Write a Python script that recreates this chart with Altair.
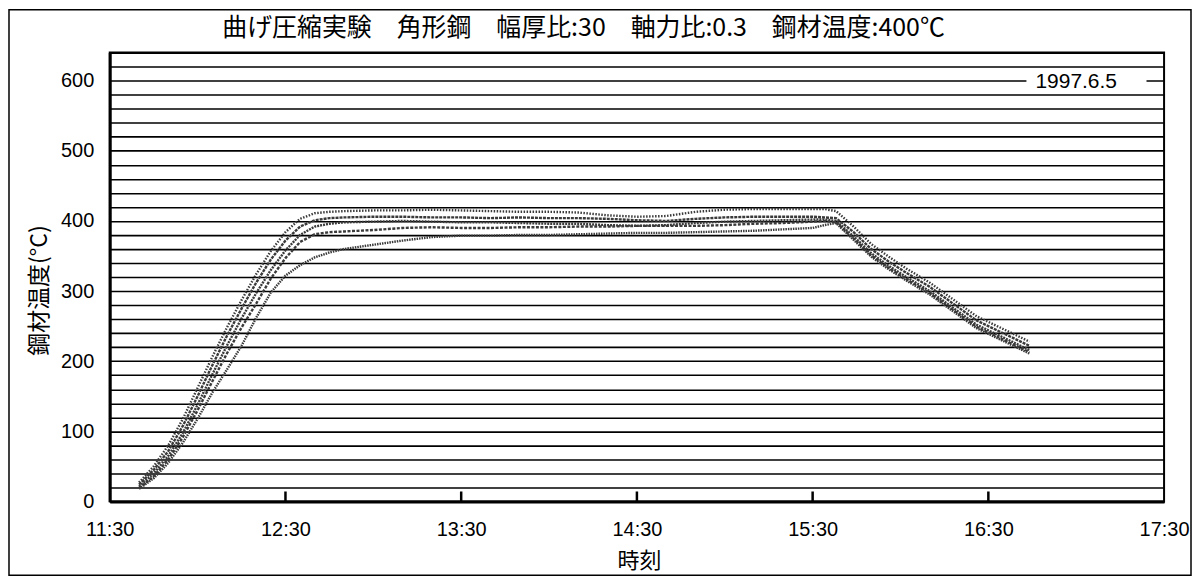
import altair as alt
import pandas as pd

# ---- data ----
title_text = "曲げ圧縮実験　角形鋼　幅厚比:30　軸力比:0.3　鋼材温度:400℃"
date_label = "1997.6.5"

times = ["11:40", "11:45", "11:50", "11:55", "12:00", "12:05", "12:10", "12:15",
         "12:20", "12:25", "12:30", "12:35", "12:40", "12:45", "12:50",
         "13:00", "13:10", "13:20", "13:30", "13:40", "13:50", "14:00", "14:10",
         "14:20", "14:30", "14:40", "14:50", "15:00", "15:10", "15:20", "15:30",
         "15:34", "15:38", "15:44", "15:50", "15:56", "16:02", "16:10", "16:18",
         "16:26", "16:34", "16:44"]

temp_a = [27, 50, 80, 118, 162, 206, 248, 287, 324, 357, 384, 403, 411, 413, 414,
          415, 415, 416, 415, 414, 413, 413, 412, 408, 406, 407, 413, 416, 417, 417, 417,
          417, 414, 392, 367, 349, 332, 312, 288, 264, 248, 228]
temp_b = [24, 45, 72, 108, 150, 194, 236, 275, 312, 345, 372, 392, 401, 404, 405,
          406, 406, 405, 405, 404, 405, 404, 404, 403, 401, 400, 403, 405, 406, 406, 406,
          405, 404, 384, 360, 342, 326, 306, 282, 258, 242, 222]
temp_c = [21, 40, 65, 98, 138, 181, 222, 261, 297, 330, 358, 380, 392, 396, 398,
          399, 400, 399, 398, 398, 397, 396, 396, 394, 393, 394, 397, 399, 400, 401, 402,
          402, 400, 378, 354, 336, 320, 300, 276, 252, 236, 216]
temp_d = [19, 36, 60, 92, 130, 171, 211, 248, 282, 318, 347, 370, 381, 384, 385,
          387, 390, 391, 390, 390, 391, 391, 392, 392, 393, 393, 393, 394, 396, 397, 399,
          400, 398, 375, 351, 333, 317, 297, 273, 249, 233, 213]
temp_e = [18, 33, 55, 84, 118, 155, 188, 222, 262, 298, 322, 337, 348, 355, 360,
          366, 372, 377, 379, 379, 380, 380, 381, 382, 383, 383, 384, 385, 386, 388, 390,
          394, 397, 373, 349, 331, 315, 295, 271, 247, 231, 211]

series = {"A": temp_a, "B": temp_b, "C": temp_c, "D": temp_d, "E": temp_e}

axis_times = ["11:30", "12:30", "13:30", "14:30", "15:30", "16:30", "17:30"]
inner_tick_times = ["12:30", "13:30", "14:30", "15:30", "16:30"]
y_grid_values = list(range(0, 641, 20))


def to_min(s):
    h, m = s.split(":")
    return int(h) * 60 + int(m)


rows = []
for name, vals in series.items():
    for t, v in zip(times, vals):
        rows.append({"s": name, "t": to_min(t), "v": v})
df = pd.DataFrame(rows)

FONT = "Liberation Sans, Noto Sans CJK JP"
JFONT = "Noto Sans CJK JP"
W, H = 1057, 450
x_dom = [to_min(axis_times[0]), to_min(axis_times[-1])]

x_scale = alt.Scale(domain=x_dom, nice=False, zero=False)
y_scale = alt.Scale(domain=[0, 640], nice=False)

x_axis = alt.Axis(
    values=[to_min(t) for t in axis_times],
    labelExpr="floor(datum.value/60) + ':' + (datum.value % 60 < 10 ? '0' : '') + (datum.value % 60)",
    ticks=False, grid=False, domainColor="black", domainWidth=3,
    labelFontSize=20, labelFont=FONT, labelColor="black", labelPadding=18,
    labelFlush=False, labelOverlap=False,
    title="時刻", titleFont=JFONT, titleFontSize=22, titleFontWeight="normal",
    titleColor="black", titleX=W / 2 + 2, titleY=59, titleBaseline="middle",
    titleAlign="center")

y_axis = alt.Axis(
    values=y_grid_values,
    labelExpr="datum.value % 100 == 0 ? datum.label : ''",
    ticks=False, grid=True, gridColor="black", gridWidth=1.6, gridOpacity=1,
    domainColor="black", domainWidth=3,
    labelFontSize=20, labelFont=FONT, labelColor="black", labelPadding=16,
    labelOverlap=False,
    title="鋼材温度(°C)", titleFont=JFONT, titleFontSize=23, titleFontWeight="normal",
    titleColor="black", titleX=-70, titleY=238, titleAngle=270,
    titleAlign="center", titleBaseline="middle")

lines = alt.Chart(df).mark_line(strokeWidth=2.4, color="#3a3a3a", clip=True).encode(
    x=alt.X("t:Q", scale=x_scale, axis=x_axis),
    y=alt.Y("v:Q", scale=y_scale, axis=y_axis),
    detail="s:N",
    strokeDash=alt.StrokeDash("s:N", legend=None,
                              scale=alt.Scale(range=[[1.5, 1.5], [3, 1], [2, 1], [3, 1.5], [1.5, 1]])),
)

label_df = pd.DataFrame({"t": [to_min("17:00")], "v": [598], "txt": [date_label],
                         "t0": [to_min("16:43")], "t1": [to_min("17:24")],
                         "v0": [588], "v1": [608]})

label_bg = alt.Chart(label_df).mark_rect(color="white").encode(
    x=alt.X("t0:Q", scale=x_scale, axis=x_axis), x2="t1:Q",
    y=alt.Y("v0:Q", scale=y_scale, axis=y_axis), y2="v1:Q")

label_txt = alt.Chart(label_df).mark_text(fontSize=21, font=FONT, color="black",
                                          align="center", baseline="middle").encode(
    x=alt.X("t:Q", scale=x_scale, axis=x_axis), y=alt.Y("v:Q", scale=y_scale, axis=y_axis),
    text="txt:N")

tick_df = pd.DataFrame({"t": [to_min(t) for t in inner_tick_times]})
ticks = alt.Chart(tick_df).mark_rule(color="black", strokeWidth=2.5).encode(
    x=alt.X("t:Q", scale=x_scale, axis=x_axis), y=alt.value(H), y2=alt.value(H - 10))

frame = alt.Chart(tick_df.head(1)).mark_rect(fill=None, stroke="black", strokeWidth=1.5).encode(
    x=alt.value(-101), x2=alt.value(W + 27), y=alt.value(-43), y2=alt.value(H + 74))

title_df = pd.DataFrame({"txt": [title_text]})
title = alt.Chart(title_df).mark_text(font=JFONT, fontSize=25, color="black",
                                      align="center", baseline="middle").encode(
    x=alt.value(475), y=alt.value(-25), text="txt:N")

chart = alt.layer(lines, label_bg, label_txt, ticks, frame, title).properties(
    width=W, height=H,
    autosize=alt.AutoSizeParams(type="none"),
    padding={"left": 102, "top": 44, "right": 28, "bottom": 75},
).configure(background="white").configure_view(stroke="black", strokeWidth=2)

chart.save("out.html", embed_options={"renderer": "svg", "actions": False})
